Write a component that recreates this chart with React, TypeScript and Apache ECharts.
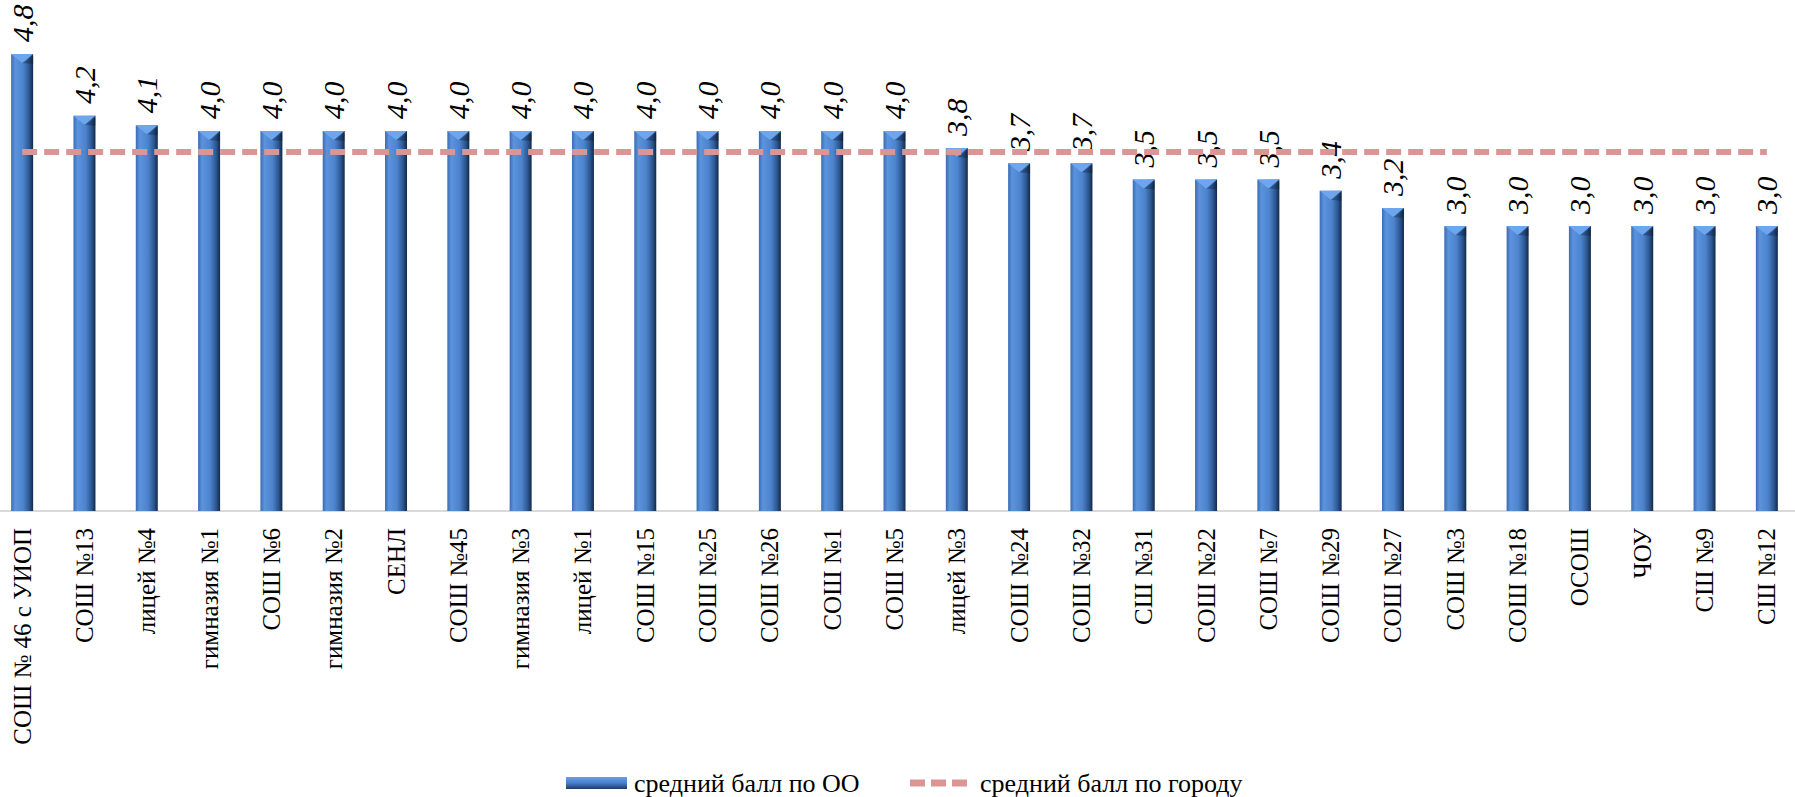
import React, { useEffect, useRef } from "react";
import * as echarts from "echarts";

const categories = [
  "СОШ № 46 с УИОП", "СОШ №13", "лицей №4", "гимназия №1", "СОШ №6", "гимназия №2", "СЕНЛ",
  "СОШ №45", "гимназия №3", "лицей №1", "СОШ №15", "СОШ №25", "СОШ №26", "СОШ №1", "СОШ №5",
  "лицей №3", "СОШ №24", "СОШ №32", "СШ №31", "СОШ №22", "СОШ №7", "СОШ №29", "СОШ №27",
  "СОШ №3", "СОШ №18", "ОСОШ", "ЧОУ", "СШ №9", "СШ №12",
];
const schoolAvg = [
  4.81, 4.16, 4.06, 4.0, 4.0, 4.0, 4.0, 4.0, 4.0, 4.0, 4.0, 4.0, 4.0, 4.0, 4.0,
  3.82, 3.66, 3.66, 3.49, 3.49, 3.49, 3.37, 3.19, 3.0, 3.0, 3.0, 3.0, 3.0, 3.0,
];
const cityAvg = [
  3.78, 3.78, 3.78, 3.78, 3.78, 3.78, 3.78, 3.78, 3.78, 3.78, 3.78, 3.78, 3.78, 3.78, 3.78,
  3.78, 3.78, 3.78, 3.78, 3.78, 3.78, 3.78, 3.78, 3.78, 3.78, 3.78, 3.78, 3.78, 3.78,
];
const seriesNames = ["средний балл по ОО", "средний балл по городу"];

const FONT = '"Liberation Serif", "Times New Roman", serif';
const SHIFT = 9;

export default function App() {
  const ref = useRef<HTMLDivElement>(null);
  useEffect(() => {
    if (!ref.current) return;
    const chart = echarts.init(ref.current, null, { renderer: "svg" });
    const barGrad = new echarts.graphic.LinearGradient(0, 0, 1, 0, [
      { offset: 0, color: "#3a6cb4" },
      { offset: 0.18, color: "#5b93dc" },
      { offset: 0.55, color: "#4c83cc" },
      { offset: 0.82, color: "#2c5792" },
      { offset: 1, color: "#132947" },
    ]);
    const legendBarGrad = new echarts.graphic.LinearGradient(0, 0, 0, 1, [
      { offset: 0, color: "#6a9fe6" },
      { offset: 0.5, color: "#4a7fc6" },
      { offset: 1, color: "#1e3b66" },
    ]);
    const BW = 22;
    chart.setOption({
      animation: false,
      backgroundColor: "#ffffff",
      grid: { left: 0, top: 36, width: 1807, height: 475, containLabel: false },
      xAxis: {
        type: "category",
        data: categories,
        axisLine: { show: true, lineStyle: { color: "#d9d9d9", width: 2 } },
        axisTick: { show: false },
        axisLabel: {
          interval: 0,
          rotate: 90,
          margin: 17,
          fontFamily: FONT,
          fontSize: 25,
          color: "#000",
        },
      },
      yAxis: { type: "value", min: 0, max: 5, show: false, splitLine: { show: false } },
      legend: [
        {
          data: [{ name: seriesNames[0], icon: "rect", itemStyle: { color: legendBarGrad } }],
          left: 561 + SHIFT,
          top: 765,
          itemWidth: 61,
          itemHeight: 12,
          itemGap: 7,
          textStyle: { fontFamily: FONT, fontSize: 26, color: "#000", padding: [0, 0, 0, 2] },
        },
        {
          data: [
            {
              name: seriesNames[1],
              icon: "path://M0,0h15v7h-15z M21,0h15v7h-15z M42,0h15v7h-15z",
              itemStyle: { color: "#d99694", borderWidth: 0 },
            },
          ],
          left: 905 + SHIFT,
          top: 765,
          itemWidth: 57,
          itemHeight: 7,
          lineStyle: { width: 0 },
          textStyle: { fontFamily: FONT, fontSize: 26, color: "#000", padding: [0, 0, 0, 8] },
        },
      ],
      series: [
        {
          name: seriesNames[0],
          type: "bar",
          data: schoolAvg,
          barWidth: BW,
          itemStyle: { color: barGrad },
          label: {
            show: true,
            position: "top",
            rotate: 90,
            align: "left",
            verticalAlign: "middle",
            distance: 12,
            fontFamily: FONT,
            fontStyle: "italic",
            fontSize: 30,
            color: "#000",
            formatter: (p: any) => (Math.round(p.value * 10) / 10).toFixed(1).replace(".", ","),
          },
          z: 2,
        },
        {
          name: "bevel",
          type: "custom",
          data: schoolAvg,
          silent: true,
          z: 3,
          renderItem: (params: any, api: any) => {
            const pt = api.coord([api.value(0), api.value(1)]);
            const x = pt[0];
            const y = pt[1];
            const h = BW / 2;
            return {
              type: "group",
              children: [
                {
                  type: "polygon",
                  shape: { points: [[x - h, y], [x + h, y], [x, y + 9]] },
                  style: { fill: "#6ea6ee" },
                },
                {
                  type: "polygon",
                  shape: { points: [[x + 2, y + 8], [x + h, y + 2], [x + h, y + 10], [x, y + 9]] },
                  style: { fill: "rgba(10,25,50,0.35)" },
                },
              ],
            };
          },
          encode: { x: 0, y: 1 },
        },
        {
          name: seriesNames[1],
          type: "line",
          data: cityAvg,
          symbol: "none",
          z: 5,
          lineStyle: { color: "#d99694", width: 6, type: [15, 7] },
          itemStyle: { color: "#d99694" },
        },
      ],
    });
    return () => chart.dispose();
  }, []);
  return (
    <div
      ref={ref}
      style={{ position: "fixed", left: -SHIFT, top: 0, width: 1795 + 2 * SHIFT + 6, height: 797 }}
    />
  );
}
